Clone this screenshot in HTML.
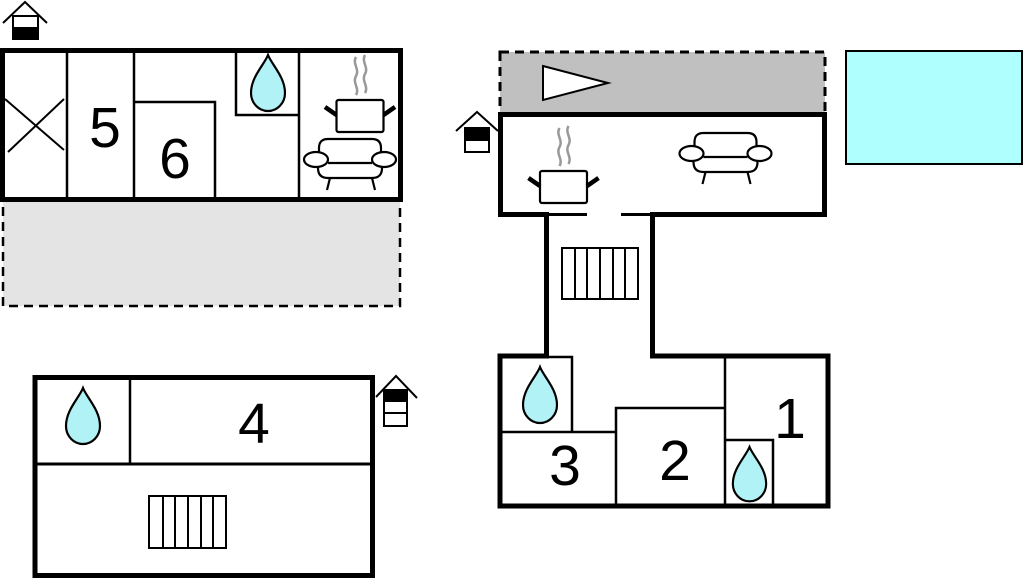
<!DOCTYPE html>
<html><head><meta charset="utf-8"><style>
html,body{margin:0;padding:0;background:#fff;}
svg{display:block;}
text{font-family:"Liberation Sans",Arial,sans-serif;font-size:57px;fill:#000;text-anchor:middle;}
</style></head><body>
<svg width="1024" height="580" viewBox="0 0 1024 580" xmlns="http://www.w3.org/2000/svg">
<defs>
<path id="drop" d="M0,0 C4,10 17,22 17,38 A17,18 0 0 1 -17,38 C-17,22 -4,10 0,0 Z" fill="#b0f2f6" stroke="#000" stroke-width="2.2"/>
<g id="sofa" fill="#fff" stroke="#000" stroke-width="2.2">
<path d="M-31,16 L-31,9 Q-31,0 -22,0 L22,0 Q31,0 31,9 L31,16"/>
<path d="M-32,22 L-32,29 Q-32,39 -22,39 L22,39 Q32,39 32,29 L32,22"/>
<line x1="-22" y1="24" x2="22" y2="24"/>
<line x1="-20" y1="39" x2="-23" y2="51"/>
<line x1="22" y1="39" x2="25" y2="51"/>
<ellipse cx="-34" cy="20.5" rx="12" ry="7.5"/>
<ellipse cx="34" cy="20.5" rx="12" ry="7.5"/>
</g>
<g id="pot">
<path d="M-4,-43 C-8,-36 0,-31 -4,-24 C-8,-17 0,-12 -4,-5" fill="none" stroke="#999" stroke-width="2.5"/>
<path d="M5,-45 C1,-38 9,-33 5,-26 C1,-19 9,-14 5,-7" fill="none" stroke="#999" stroke-width="2.5"/>
<rect x="-23.5" y="0" width="47" height="32" rx="2" fill="#fff" stroke="#000" stroke-width="2.2"/>
<line x1="-35" y1="7" x2="-23.5" y2="15" stroke="#000" stroke-width="4.5"/>
<line x1="35" y1="7" x2="23.5" y2="15" stroke="#000" stroke-width="4.5"/>
</g>
</defs>

<!-- Top-left building -->
<rect x="3" y="200" width="397" height="106" fill="#e4e4e4" stroke="#000" stroke-width="2.5" stroke-dasharray="9,6"/>
<rect x="2.5" y="50.5" width="398" height="149" fill="#fff" stroke="#000" stroke-width="5"/>
<g stroke="#000" stroke-width="2.5" fill="none">
<line x1="67" y1="50" x2="67" y2="199"/>
<line x1="134" y1="50" x2="134" y2="199"/>
<polyline points="134,102 215,102 215,199"/>
<polyline points="236,50 236,115 298,115"/>
<line x1="299" y1="50" x2="299" y2="199"/>
<line x1="8" y1="152" x2="64" y2="99" stroke-width="2"/>
<line x1="5" y1="99" x2="64" y2="150" stroke-width="2"/>
</g>
<use href="#drop" transform="translate(268,55)"/>
<use href="#pot" transform="translate(360,100)"/>
<use href="#sofa" transform="translate(350,139)"/>
<text x="105" y="147">5</text>
<text x="175" y="178">6</text>
<!-- house icon top-left -->
<g stroke="#000" stroke-width="2" fill="none">
<polyline points="3,23 25,2 47,23"/>
<rect x="13" y="16" width="25" height="23" fill="#fff"/>
<rect x="13" y="28" width="25" height="11" fill="#000"/>
</g>

<!-- Right top area -->
<rect x="500" y="52" width="325" height="62" fill="#c0c0c0" stroke="#000" stroke-width="3" stroke-dasharray="9,6"/>
<polygon points="543,66 608,83 543,100" fill="#fff" stroke="#000" stroke-width="2"/>
<rect x="846" y="51" width="176" height="113" fill="#b0ffff" stroke="#000" stroke-width="2"/>

<!-- Right main building upper -->
<rect x="500.5" y="114.5" width="324" height="100" fill="#fff" stroke="none"/>
<g stroke="#000" fill="none">
<polyline points="500.5,214.5 500.5,114.5 824.5,114.5 824.5,214.5 650,214.5" stroke-width="5"/>
<line x1="498" y1="214.5" x2="549" y2="214.5" stroke-width="5"/>
<line x1="549" y1="214.5" x2="587" y2="214.5" stroke-width="3"/>
<line x1="621" y1="214.5" x2="651" y2="214.5" stroke-width="3"/>
<line x1="546.5" y1="212" x2="546.5" y2="358" stroke-width="5"/>
<line x1="652.5" y1="212" x2="652.5" y2="358" stroke-width="5"/>
</g>
<use href="#pot" transform="translate(563.5,171)"/>
<use href="#sofa" transform="translate(725.5,133)"/>
<!-- stairs corridor -->
<g stroke="#000" stroke-width="2" fill="none">
<rect x="562" y="248" width="76" height="51"/>
<line x1="575" y1="248" x2="575" y2="299"/>
<line x1="587" y1="248" x2="587" y2="299"/>
<line x1="600" y1="248" x2="600" y2="299"/>
<line x1="613" y1="248" x2="613" y2="299"/>
<line x1="625" y1="248" x2="625" y2="299"/>
</g>
<!-- house icon right -->
<g stroke="#000" stroke-width="2" fill="none">
<polyline points="456,131 477,112 498,131"/>
<rect x="465" y="128" width="24" height="24" fill="#fff"/>
<rect x="465" y="128" width="24" height="12" fill="#000"/>
</g>

<!-- Right lower building -->
<g stroke="#000" fill="none">
<polyline points="549,356 500,356 500,506 828,506 828,356 650,356" stroke-width="5"/>
<g stroke-width="2.5">
<polyline points="549,357 572,357 572,432"/>
<line x1="500" y1="432" x2="616" y2="432"/>
<polyline points="616,506 616,408 725,408"/>
<line x1="725" y1="356" x2="725" y2="506"/>
<polyline points="725,440 773,440 773,506"/>
</g>
</g>
<use href="#drop" transform="translate(540,367)"/>
<use href="#drop" transform="translate(749.5,447) scale(0.98,0.97)"/>
<text x="790" y="438">1</text>
<text x="675" y="480">2</text>
<text x="565" y="485">3</text>

<!-- Bottom-left building -->
<rect x="35" y="377.5" width="337.5" height="198" fill="#fff" stroke="#000" stroke-width="5"/>
<g stroke="#000" fill="none">
<line x1="130" y1="377" x2="130" y2="464" stroke-width="2.5"/>
<line x1="35" y1="464" x2="372" y2="464" stroke-width="3"/>
</g>
<use href="#drop" transform="translate(83,388)"/>
<text x="254" y="443">4</text>
<g stroke="#000" stroke-width="2" fill="none">
<rect x="149" y="496" width="77" height="52"/>
<line x1="163" y1="496" x2="163" y2="548"/>
<line x1="175" y1="496" x2="175" y2="548"/>
<line x1="188" y1="496" x2="188" y2="548"/>
<line x1="201" y1="496" x2="201" y2="548"/>
<line x1="213" y1="496" x2="213" y2="548"/>
</g>
<!-- house icon bottom-left -->
<g stroke="#000" stroke-width="2" fill="none">
<polyline points="376,397 396,376 417,398"/>
<rect x="384" y="390" width="23" height="36" fill="#fff"/>
<rect x="384" y="390" width="23" height="11" fill="#000"/>
<line x1="384" y1="413" x2="407" y2="413"/>
</g>
</svg>
</body></html>
